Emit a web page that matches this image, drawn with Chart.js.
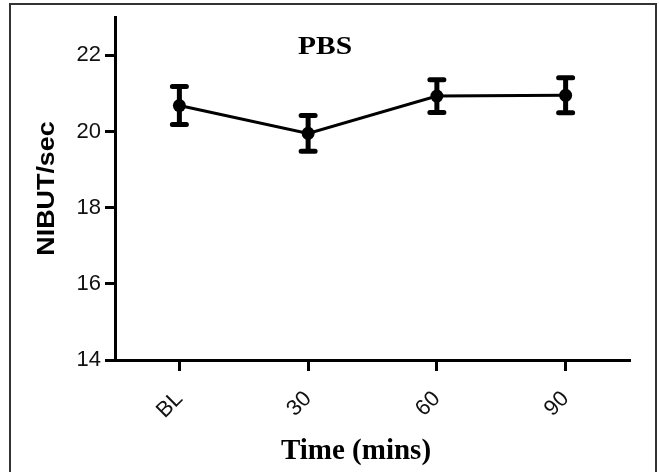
<!DOCTYPE html>
<html><head><meta charset="utf-8">
<script src="https://cdn.jsdelivr.net/npm/chart.js@4"></script>
<style>
html,body{margin:0;padding:0;background:#fff;}
#wrap{position:relative;width:659px;height:472px;overflow:hidden;}
#frame{position:absolute;left:9px;top:3px;width:648px;height:480px;border:2px solid #333;border-bottom:none;box-sizing:border-box;pointer-events:none}
</style></head><body>
<div id="wrap"><canvas id="c" width="659" height="472"></canvas><div id="frame"></div></div>
<script>
const categories = ['BL', '30', '60', '90'];
const means = [20.68, 19.95, 20.93, 20.95];
const errors = [0.50, 0.47, 0.43, 0.46];
const yTicks = [14, 16, 18, 20, 22];
const yMin = 14, yMax = 23;
const chartTitle = 'PBS';
const xTitle = 'Time (mins)';
const yTitle = 'NIBUT/sec';

const errorBars = {
  id: 'errorBars',
  afterDatasetsDraw(chart) {
    const ctx = chart.ctx, ys = chart.scales.y, xs = chart.scales.x;
    ctx.save();
    ctx.strokeStyle = '#000';
    ctx.lineWidth = 5;
    ctx.lineCap = 'round';
    means.forEach((m, i) => {
      const x = xs.getPixelForValue(i);
      const yt = ys.getPixelForValue(m + errors[i]);
      const yb = ys.getPixelForValue(m - errors[i]);
      ctx.beginPath();
      ctx.moveTo(x, yt); ctx.lineTo(x, yb);
      ctx.moveTo(x - 7, yt); ctx.lineTo(x + 7, yt);
      ctx.moveTo(x - 7, yb); ctx.lineTo(x + 7, yb);
      ctx.stroke();
    });
    ctx.restore();
  }
};

const titles = {
  id: 'titles',
  afterDraw(chart) {
    const ctx = chart.ctx;
    ctx.save();
    ctx.fillStyle = '#000';
    ctx.font = 'bold 25px "Liberation Serif"';
    ctx.textAlign = 'center';
    ctx.textBaseline = 'alphabetic';
    ctx.save();
    ctx.translate(325, 54);
    ctx.scale(1.18, 1);
    ctx.fillText(chartTitle, 0, 0);
    ctx.restore();
    ctx.font = 'bold 29px "Liberation Serif"';
    ctx.fillText(xTitle, 356, 459);
    ctx.font = 'bold 24px "Liberation Sans"';
    ctx.save();
    ctx.translate(54, 188.5);
    ctx.rotate(-Math.PI / 2);
    ctx.scale(1.12, 1);
    ctx.fillText(yTitle, 0, 0);
    ctx.restore();
    ctx.restore();
  }
};

new Chart(document.getElementById('c'), {
  type: 'line',
  data: {
    labels: categories,
    datasets: [{
      data: means,
      borderColor: '#000',
      borderWidth: 3,
      pointRadius: 6.5,
      pointBackgroundColor: '#000',
      pointBorderColor: '#000',
      pointBorderWidth: 0,
      tension: 0,
      clip: false
    }]
  },
  options: {
    responsive: false,
    animation: false,
    devicePixelRatio: 1,
    layout: { autoPadding: false, padding: { top: 13, right: 29, left: 0, bottom: 0 } },
    plugins: { legend: { display: false }, tooltip: { enabled: false }, title: { display: false } },
    scales: {
      x: {
        type: 'category',
        offset: true,
        afterFit(s) { s.height = 112; },
        grid: { offset: false, drawOnChartArea: false, drawTicks: true, tickLength: 11, tickWidth: 3, tickColor: '#000' },
        border: { display: true, width: 3, color: '#000' },
        ticks: { minRotation: 45, maxRotation: 45, padding: 15, color: '#111', font: { family: '"Liberation Sans"', size: 22 } }
      },
      y: {
        min: yMin, max: yMax,
        afterFit(s) { s.width = 115; },
        afterBuildTicks(s) { s.ticks = yTicks.map(v => ({ value: v })); },
        grid: { drawOnChartArea: false, drawTicks: true, tickLength: 10, tickWidth: 3, tickColor: '#000' },
        border: { display: true, width: 3, color: '#000' },
        ticks: { padding: 4, color: '#111', font: { family: '"Liberation Sans"', size: 22 } }
      }
    }
  },
  plugins: [errorBars, titles]
});
</script>
</body></html>
